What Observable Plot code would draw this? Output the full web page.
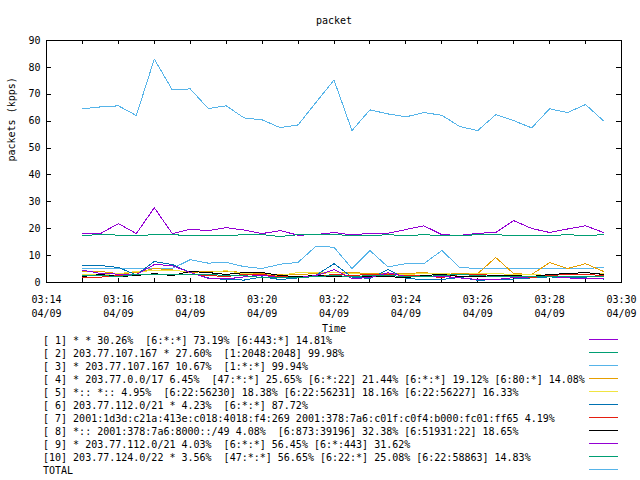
<!DOCTYPE html>
<html><head><meta charset="utf-8">
<script src="https://cdn.jsdelivr.net/npm/d3@7"></script>
<script src="https://cdn.jsdelivr.net/npm/@observablehq/plot@0.6"></script>
<style>
html,body{margin:0;padding:0;background:#fff;width:640px;height:480px;overflow:hidden;}
#chart{position:absolute;left:0;top:0;}
#legend{position:absolute;left:0;top:0;}
.row{position:absolute;left:43px;height:13px;line-height:13px;font-family:"DejaVu Sans Mono",monospace;font-size:10px;white-space:pre;color:#000;}
.sample{position:absolute;left:589px;width:29px;height:1px;}
</style></head><body>
<div id="chart"></div><div id="legend"></div>
<script>
const title = "packet";
const xLabel = "Time";
const yLabel = "packets (kpps)";
const dateLabel = "04/09";
const times = ["03:15:00","03:15:30","03:16:00","03:16:30","03:17:00","03:17:30","03:18:00","03:18:30","03:19:00","03:19:30",
  "03:20:00","03:20:30","03:21:00","03:21:30","03:22:00","03:22:30","03:23:00","03:23:30","03:24:00","03:24:30",
  "03:25:00","03:25:30","03:26:00","03:26:30","03:27:00","03:27:30","03:28:00","03:28:30","03:29:00","03:29:30"];
const minuteTicks = ["03:14","03:15","03:16","03:17","03:18","03:19","03:20","03:21","03:22","03:23","03:24","03:25","03:26","03:27","03:28","03:29","03:30"];
const labelTicks = ["03:14","03:16","03:18","03:20","03:22","03:24","03:26","03:28","03:30"];
const yTicks = [0,10,20,30,40,50,60,70,80,90];

const s1 = [18.2,18.2,21.9,18.2,27.8,18.2,19.8,19.3,20.4,19.5,18.2,19.3,17.6,17.8,18.6,17.7,18.3,18.3,19.7,21.1,17.8,17.5,18.3,18.6,23.0,20.1,18.6,19.9,21.1,18.6];
const s2 = [17.4,17.9,17.6,17.4,17.8,17.8,17.4,17.4,17.4,17.8,17.8,17.1,17.8,17.8,17.8,17.5,17.4,17.8,17.4,17.8,17.4,17.4,17.8,17.8,17.4,17.4,17.4,17.8,17.4,17.8];
const s3 = [5.2,5.2,5.2,5.2,5.2,5.2,8.5,7.2,7.5,5.9,5.2,6.8,7.5,13.5,13.1,5.2,11.9,5.8,7.0,7.0,11.9,5.6,5.2,5.2,5.2,5.2,5.2,5.2,5.2,5.6];
const s4 = [4.1,4.1,3.3,3.7,5.2,4.7,3.7,4.2,4.2,3.7,3.3,3.0,3.0,3.3,3.7,3.7,3.3,3.3,3.3,3.7,3.0,3.3,3.3,9.3,3.3,3.0,7.4,5.2,7.0,4.1];
const s5 = [3.0,3.0,3.3,4.1,4.4,4.4,4.1,3.7,4.4,3.3,3.0,2.6,3.7,3.7,3.7,3.3,3.0,3.0,3.0,3.3,3.3,3.0,3.3,3.3,3.0,3.0,2.6,3.0,3.0,3.3];
const s6 = [6.3,6.3,5.6,2.8,7.8,6.7,3.7,1.7,1.1,0.9,2.1,1.1,1.7,2.7,7.0,2.0,1.5,4.8,1.5,1.1,1.1,1.9,0.8,1.1,1.3,1.7,2.1,1.7,1.7,1.3];
const s7 = [2.0,2.0,2.6,3.0,3.0,3.0,3.0,2.6,2.2,3.0,3.0,2.2,2.2,2.2,3.0,2.6,3.0,3.0,2.6,2.6,1.8,3.0,3.0,2.6,2.2,1.8,2.6,3.0,3.0,2.6];
const s8 = [2.2,3.0,2.2,2.6,3.3,2.6,4.1,3.7,3.0,3.7,3.7,2.6,2.2,2.6,2.2,2.2,2.2,2.2,1.8,2.6,3.0,2.2,2.2,2.6,2.6,2.2,3.0,3.3,3.7,3.0];
const s9 = [4.6,3.4,3.1,2.9,6.7,6.3,3.7,1.5,1.3,2.1,2.8,1.7,1.8,2.6,4.8,1.5,1.8,3.6,2.3,2.1,2.3,1.7,1.1,1.1,1.8,2.1,2.3,1.7,1.5,1.3];
const s10 = [2.6,2.6,2.2,3.0,3.0,3.0,3.0,3.0,2.6,2.6,1.8,1.8,1.8,2.2,2.6,2.2,2.6,2.6,2.2,2.2,2.6,3.0,2.6,2.2,2.2,2.2,2.2,2.2,2.2,2.2];
const total = [64.6,65.3,65.7,62.1,83.1,71.6,72.0,64.7,65.7,61.2,60.5,57.6,58.6,67.0,75.3,56.5,64.2,62.7,61.6,63.2,62.2,58.0,56.5,62.4,60.2,57.5,64.6,63.2,66.2,60.1];

const legendLabels = [
  "[ 1] * * 30.26%  [6:*:*] 73.19% [6:443:*] 14.81%",
  "[ 2] 203.77.107.167 * 27.60%  [1:2048:2048] 99.98%",
  "[ 3] * 203.77.107.167 10.67%  [1:*:*] 99.94%",
  "[ 4] * 203.77.0.0/17 6.45%  [47:*:*] 25.65% [6:*:22] 21.44% [6:*:*] 19.12% [6:80:*] 14.08%",
  "[ 5] *:: *:: 4.95%  [6:22:56230] 18.38% [6:22:56231] 18.16% [6:22:56227] 16.33%",
  "[ 6] 203.77.112.0/21 * 4.23%  [6:*:*] 87.72%",
  "[ 7] 2001:1d3d:c21a:413e:c018:4018:f4:269 2001:378:7a6:c01f:c0f4:b000:fc01:ff65 4.19%",
  "[ 8] *:: 2001:378:7a6:8000::/49 4.08%  [6:873:39196] 32.38% [6:51931:22] 18.65%",
  "[ 9] * 203.77.112.0/21 4.03%  [6:*:*] 56.45% [6:*:443] 31.62%",
  "[10] 203.77.124.0/22 * 3.56%  [47:*:*] 56.65% [6:22:*] 25.08% [6:22:58863] 14.83%",
  "TOTAL"
];
const colors = ["#9400D3","#009E73","#56B4E9","#E69F00","#F0E442","#0072B2","#E51E10","#000000","#9400D3","#009E73","#56B4E9"];
const series = [s1,s2,s3,s4,s5,s6,s7,s8,s9,s10,total];

const parseFull = d3.utcParse("%m/%d %H:%M:%S");
const parseMin = d3.utcParse("%m/%d %H:%M");
const T = times.map(t => parseFull(dateLabel + " " + t));
const mt = minuteTicks.map(t => parseMin(dateLabel + " " + t));
const lt = labelTicks.map(t => parseMin(dateLabel + " " + t));
const fmt = d3.utcFormat("%H:%M\n%m/%d");

const width = 640, height = 345, mL = 46, mR = 19, mT = 40, mB = 63;
const W = width - mL - mR, H = height - mT - mB;

const lineMarks = series.map((vals, i) =>
  Plot.line(T.map((t, j) => ({t, v: vals[j]})), {x: "t", y: "v", stroke: colors[i], strokeWidth: 1, shapeRendering: "crispEdges"}));

const chart = Plot.plot({
  width, height, marginLeft: mL, marginRight: mR, marginTop: mT, marginBottom: mB,
  style: {fontFamily: "'DejaVu Sans Mono', monospace", fontSize: "10px", background: "transparent", color: "black"},
  x: {type: "utc", domain: [mt[0], mt[mt.length - 1]], axis: null},
  y: {domain: [0, 90], axis: null},
  marks: [
    Plot.ruleX(mt, {x: d => d, insetTop: H - 4, stroke: "black", shapeRendering: "crispEdges"}),
    Plot.ruleX(mt, {x: d => d, insetBottom: H - 4, stroke: "black", shapeRendering: "crispEdges"}),
    Plot.ruleY(yTicks, {y: d => d, insetRight: W - 5, stroke: "black", shapeRendering: "crispEdges"}),
    Plot.ruleY(yTicks, {y: d => d, insetLeft: W - 5, stroke: "black", shapeRendering: "crispEdges"}),
    ...lineMarks,
    Plot.frame({stroke: "black", shapeRendering: "crispEdges"}),
    Plot.axisY(yTicks, {anchor: "left", tickSize: 0, tickPadding: 6, label: null, fill: "black"}),
    Plot.text(lt, {x: d => d, text: d => fmt(d), frameAnchor: "bottom", lineAnchor: "top", dy: 10, lineHeight: 1.45, fill: "black"}),
    Plot.text([title], {text: d => d, frameAnchor: "top", dy: -20, lineAnchor: "middle", fill: "black"}),
    Plot.text([xLabel], {text: d => d, frameAnchor: "bottom", dy: 46, lineAnchor: "middle", fill: "black"}),
    Plot.text([yLabel], {text: d => d, frameAnchor: "left", dx: -35, rotate: -90, lineAnchor: "middle", fill: "black"})
  ]
});
document.getElementById("chart").appendChild(chart);

const legend = document.getElementById("legend");
legendLabels.forEach((lab, i) => {
  const r = document.createElement("div");
  r.className = "row";
  r.style.top = (334 + 13 * i) + "px";
  r.textContent = lab;
  legend.appendChild(r);
  const s = document.createElement("div");
  s.className = "sample";
  s.style.top = (339 + 13 * i) + "px";
  s.style.background = colors[i];
  legend.appendChild(s);
});
</script></body></html>
